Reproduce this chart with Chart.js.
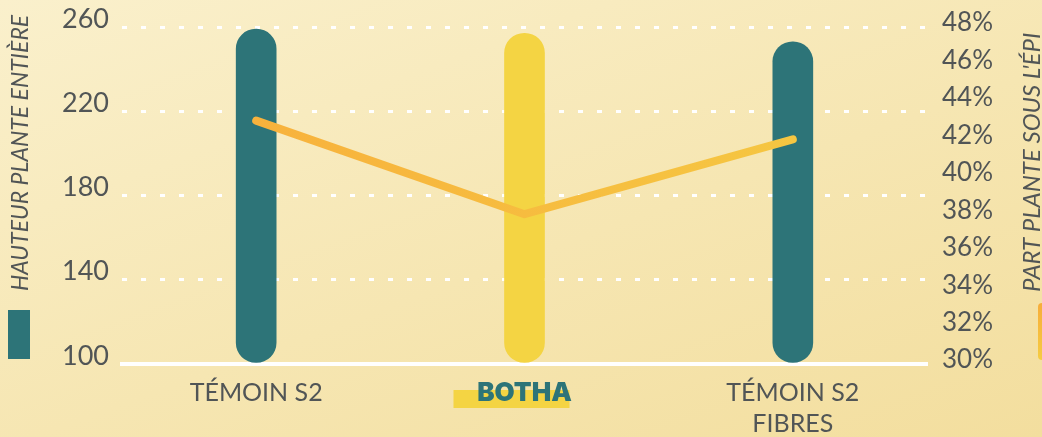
<!DOCTYPE html>
<html lang="fr">
<head>
<meta charset="utf-8">
<script src="https://cdn.jsdelivr.net/npm/chart.js@4"></script>
<style>
  html, body { margin: 0; padding: 0; }
  body {
    width: 1042px; height: 437px; overflow: hidden;
    background: linear-gradient(160deg, #faf0cc 0%, #f6e6b2 55%, #f3de9e 100%);
  }
  #wrap { position: relative; width: 1042px; height: 437px; }
  canvas { display: block; }
</style>
</head>
<body>
<div id="wrap"><canvas id="chartHauteur" width="1042" height="437"></canvas></div>
<script>
const categories = ["TÉMOIN S2", "BOTHA", ["TÉMOIN S2", "FIBRES"]];
const hauteur = [259, 257, 253];
const partEpi = [43, 38, 42];
const leftTicks = [100, 140, 180, 220, 260];
const rightTicks = [30, 32, 34, 36, 38, 40, 42, 44, 46, 48];
const titreGauche = "HAUTEUR PLANTE ENTIÈRE";
const titreDroite = "PART PLANTE SOUS L'ÉPI";

const TEAL = "#2d7478";
const JAUNE = "#f4d443";
const GRIS = "#515556";
const FONT = "Lato, 'DejaVu Sans', sans-serif";

// surlignage jaune sous BOTHA
const highlightPlugin = {
  id: "highlight",
  beforeDraw(chart) {
    const x = chart.scales.x;
    const ctx = chart.ctx;
    const cx = x.getPixelForValue(1);
    ctx.save();
    ctx.fillStyle = JAUNE;
    ctx.fillRect(cx - 71, 390, 116, 18);
    ctx.restore();
  }
};

// titres des axes + petits reperes de legende
const titlesPlugin = {
  id: "titles",
  afterDraw(chart) {
    const ctx = chart.ctx;
    ctx.save();
    ctx.fillStyle = GRIS;
    ctx.font = "italic 23px " + FONT;
    ctx.textBaseline = "middle";
    ctx.textAlign = "left";

    ctx.save();
    ctx.translate(21, 291);
    ctx.rotate(-Math.PI / 2);
    ctx.fillText(titreGauche, 0, 0);
    ctx.restore();

    ctx.save();
    ctx.font = "italic 24px " + FONT;
    ctx.translate(1032, 292);
    ctx.rotate(-Math.PI / 2);
    ctx.fillText(titreDroite, 0, 0);
    ctx.restore();

    ctx.fillStyle = TEAL;
    ctx.fillRect(8, 310, 22, 49);

    const g = ctx.createLinearGradient(0, 303, 0, 360);
    g.addColorStop(0, "#f7ad3a");
    g.addColorStop(1, "#f5cc42");
    ctx.fillStyle = g;
    ctx.beginPath();
    ctx.roundRect(1038, 303, 14, 57, 4);
    ctx.fill();
    ctx.restore();
  }
};

function lineGradient(context) {
  const area = context.chart.chartArea;
  if (!area) return "#f7b23c";
  const g = context.chart.ctx.createLinearGradient(area.left, 0, area.right, 0);
  g.addColorStop(0, "#f8ad3b");
  g.addColorStop(1, "#f5cb43");
  return g;
}

function fitY(width) {
  return (s) => {
    s.width = width;
    s.paddingTop = 0;
    s.paddingBottom = 0;
  };
}

new Chart(document.getElementById("chartHauteur"), {
  type: "bar",
  data: {
    labels: categories,
    datasets: [
      {
        type: "line",
        label: titreDroite,
        data: partEpi,
        yAxisID: "y1",
        borderColor: lineGradient,
        borderWidth: 8,
        borderCapStyle: "round",
        borderJoinStyle: "round",
        pointRadius: 0,
        tension: 0,
        order: 0
      },
      {
        label: titreGauche,
        data: hauteur,
        yAxisID: "y",
        backgroundColor: [TEAL, JAUNE, TEAL],
        barThickness: 40,
        borderRadius: 20,
        borderSkipped: false,
        base: 100,
        order: 1
      }
    ]
  },
  plugins: [highlightPlugin, titlesPlugin],
  options: {
    responsive: false,
    animation: false,
    devicePixelRatio: 1,
    layout: { padding: { top: 27, left: 0, right: 0, bottom: 0 } },
    plugins: { legend: { display: false }, tooltip: { enabled: false } },
    scales: {
      x: {
        offset: true,
        grid: { display: false },
        border: { display: true, color: "#ffffff", width: 4 },
        afterFit: (s) => { s.height = 73; s.paddingLeft = 0; s.paddingRight = 0; },
        ticks: {
          padding: 5,
          maxRotation: 0,
          color: (c) => c.index === 1 ? TEAL : GRIS,
          font: (c) => c.index === 1
            ? { family: "Inter, 'DejaVu Sans', sans-serif", size: 26, weight: "900", lineHeight: 1.25 }
            : { family: FONT, size: 25, weight: "normal", lineHeight: 1.25 }
        }
      },
      y: {
        position: "left",
        min: 100,
        max: 260,
        afterFit: fitY(122),
        afterBuildTicks: (s) => { s.ticks = leftTicks.map(v => ({ value: v })); },
        border: { display: false, dash: [5, 14] },
        grid: {
          drawTicks: false,
          lineWidth: 3,
          color: (c) => c.tick && c.tick.value === 100 ? "rgba(0,0,0,0)" : "#ffffff"
        },
        ticks: {
          padding: 13,
          labelOffset: -8,
          color: GRIS,
          font: { family: FONT, size: 27 }
        }
      },
      y1: {
        position: "right",
        min: 30,
        max: 48,
        afterFit: fitY(115),
        afterBuildTicks: (s) => { s.ticks = rightTicks.map(v => ({ value: v })); },
        border: { display: false },
        grid: { display: false, drawTicks: false },
        ticks: {
          padding: 15,
          labelOffset: -4,
          color: GRIS,
          font: { family: FONT, size: 26 },
          callback: (v) => v + "%"
        }
      }
    }
  }
});
</script>
</body>
</html>
